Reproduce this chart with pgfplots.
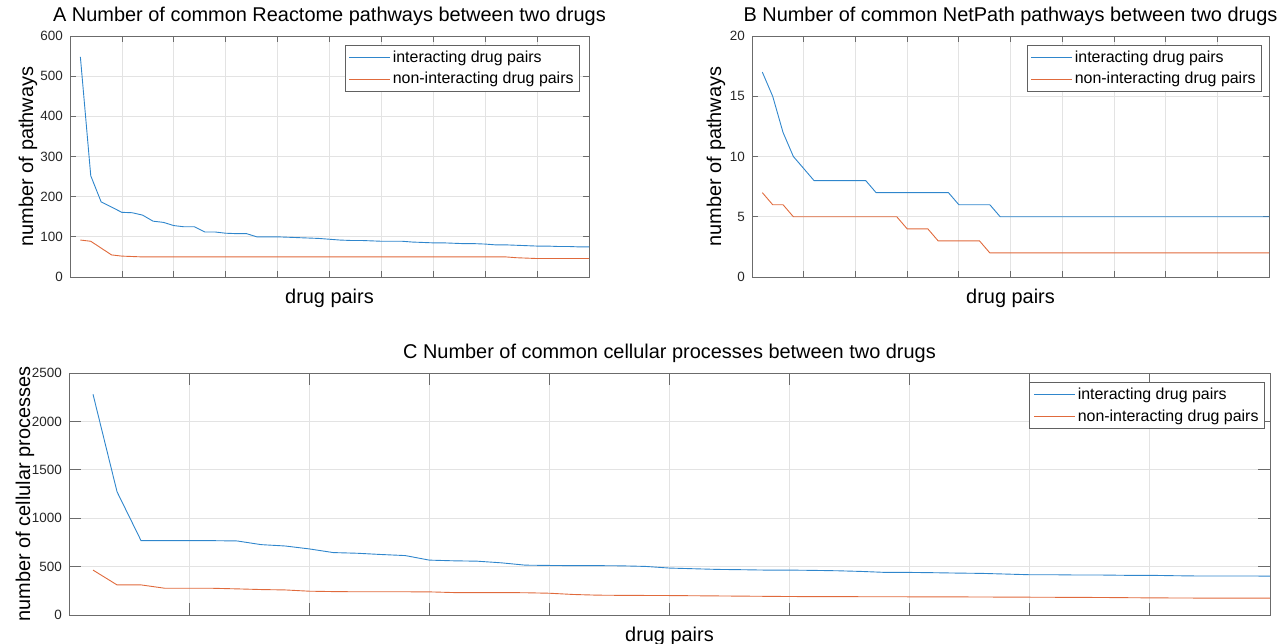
\documentclass[border=0pt]{standalone}
\usepackage{fontspec}
\setmainfont{Liberation Sans}
\usepackage{pgfplots}
\pgfplotsset{compat=1.18}
\definecolor{mblue}{HTML}{2F86CC}
\definecolor{morange}{HTML}{E06A3C}

\pgfplotsset{
  mstyle/.style={
    scale only axis,
    xmin=0, xmax=50,
    xtick={0,5,...,50}, xticklabels={},
    grid=major,
    major grid style={black!11, line width=0.8bp},
    axis line style={black!58, line width=0.8bp},
    every tick/.style={black!58, line width=0.8bp},
    /pgf/number format/assume math mode=true,
    /pgf/number format/1000 sep={},
    tick label style={font=\fontsize{13.5}{16}\selectfont, text=black!85},
    yticklabel style={inner sep=0pt, xshift=-7bp},
    title style={font=\fontsize{20}{24}\selectfont, at={(axis description cs:0.5,1)}, anchor=base, yshift=9bp},
    xlabel style={font=\fontsize{20}{24}\selectfont, at={(axis description cs:0.5,0)}, anchor=base, yshift=-26bp},
    ylabel style={font=\fontsize{20}{24}\selectfont, anchor=center},
    legend cell align=left,
    legend image code/.code={\draw[#1, line width=0.9bp] (0bp,0bp) -- (41bp,0bp);},
    legend style={at={(1,1)}, anchor=north east, draw=black!62, line width=0.8bp, fill=white,
      font=\fontsize{16}{19}\selectfont, nodes={inner sep=2bp}, row sep=4.5bp,
      inner xsep=4bp, inner ysep=3.5bp},
    every axis plot/.append style={line width=0.9bp, mark=none},
  }
}

\pgfplotstableread{
x ai an bi bn ci cn
1 548 92 17 7 2280 464
2 252 89 15 6 1273 311
3 187 72 12 6 768 311
4 174 55 10 5 768 276
5 161 52 9 5 768 276
6 160 51 8 5 768 276
7 154 50 8 5 765 270
8 139 50 8 5 727 263
9 136 50 8 5 713 259
10 128 50 8 5 683 246
11 125 50 8 5 645 242
12 125 50 7 5 638 240
13 112 50 7 5 625 240
14 112 50 7 5 614 240
15 109 50 7 4 567 239
16 108 50 7 4 560 232
17 108 50 7 4 556 232
18 100 50 7 3 539 232
19 100 50 7 3 515 230
20 100 50 6 3 512 225
21 99 50 6 3 510 212
22 98 50 6 3 510 205
23 97 50 6 2 508 203
24 96 50 5 2 502 202
25 94 50 5 2 485 201
26 92 50 5 2 478 199
27 91 50 5 2 471 197
28 91 50 5 2 468 195
29 90 50 5 2 464 193
30 89 50 5 2 464 191
31 89 50 5 2 461 190
32 89 50 5 2 457 190
33 87 50 5 2 450 189
34 86 50 5 2 440 189
35 85 50 5 2 440 188
36 85 50 5 2 437 187
37 84 50 5 2 433 187
38 83 50 5 2 430 186
39 83 50 5 2 423 185
40 82 50 5 2 416 184
41 80 50 5 2 416 183
42 80 50 5 2 413 182
43 79 48 5 2 413 181
44 78 47 5 2 410 179
45 77 46 5 2 410 177
46 77 46 5 2 406 176
47 76 46 5 2 403 175
48 76 46 5 2 403 175
49 75 46 5 2 403 174
50 75 46 5 2 402 174
}\data

\begin{document}
\begin{tikzpicture}
\useasboundingbox (0,0) rectangle (1284bp,-644bp);

\begin{axis}[mstyle,
  at={(70bp,-277bp)}, anchor=south west,
  width=519bp, height=241bp,
  ymin=0, ymax=600, ytick={0,100,...,600},
  major tick length=6bp,
  title={A Number of common Reactome pathways between two drugs},
  xlabel={drug pairs},
  ylabel={number of pathways},
  ylabel style={at={(axis description cs:-0.081,0.5)}},
  legend style={xshift=-9bp, yshift=-9bp},
]
\addplot[mblue] table[x=x, y=ai] {\data};
\addplot[morange] table[x=x, y=an] {\data};
\legend{interacting drug pairs, non-interacting drug pairs}
\end{axis}

\begin{axis}[mstyle,
  at={(752bp,-277bp)}, anchor=south west,
  width=517bp, height=241bp,
  ymin=0, ymax=20, ytick={0,5,...,20},
  major tick length=6bp,
  title={B Number of common NetPath pathways between two drugs},
  xlabel={drug pairs},
  ylabel={number of pathways},
  ylabel style={at={(axis description cs:-0.0696,0.5)}},
  legend style={xshift=-7bp, yshift=-9bp},
]
\addplot[mblue] table[x=x, y=bi] {\data};
\addplot[morange] table[x=x, y=bn] {\data};
\legend{interacting drug pairs, non-interacting drug pairs}
\end{axis}

\begin{axis}[mstyle,
  at={(69bp,-615bp)}, anchor=south west,
  width=1201bp, height=242bp,
  ymin=0, ymax=2500, ytick={0,500,...,2500},
  major tick length=12bp,
  title={C Number of common cellular processes between two drugs},
  xlabel={drug pairs},
  ylabel={number of cellular processes},
  ylabel style={at={(axis description cs:-0.0366,0.5)}},
  legend style={xshift=-5bp, yshift=-9bp},
]
\addplot[mblue] table[x=x, y=ci] {\data};
\addplot[morange] table[x=x, y=cn] {\data};
\legend{interacting drug pairs, non-interacting drug pairs}
\end{axis}
\end{tikzpicture}
\end{document}
